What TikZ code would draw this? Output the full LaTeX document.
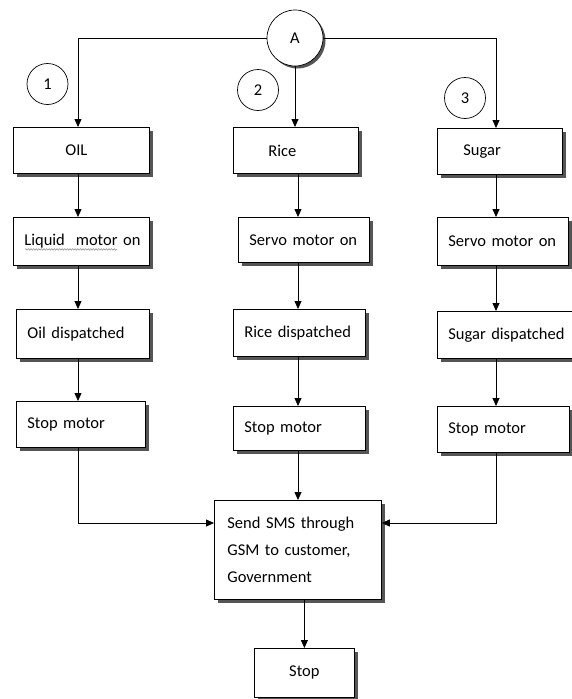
\documentclass[tikz,border=0pt]{standalone}
\usepackage{fontspec}
\setmainfont{Carlito}[WordSpace=0.6]
\usetikzlibrary{arrows.meta, decorations.pathmorphing, backgrounds}
\definecolor{boxShade}{HTML}{555555}
\definecolor{spellGray}{HTML}{8C8C8C}
\hyphenpenalty=10000
\exhyphenpenalty=10000

\begin{document}
\begin{tikzpicture}[x=1pt, y=-1pt, font=\fontsize{16.5}{27}\selectfont,
    box/.style={draw, fill=white, line width=0.8pt, anchor=north west,
      inner xsep=11pt, inner ysep=0pt, align=left},
    num/.style={draw, circle, line width=0.7pt, minimum size=41pt, inner sep=0pt},
    shade/.style={fill=boxShade},
    link/.style={line width=0.8pt},
    arr/.style={link, -{Triangle[length=8pt, width=7pt]}}]
  \useasboundingbox (0,0) rectangle (571,699);

  % start and branch numbers
  \node[num, minimum size=56pt, fill=white] (A) at (295,38) {A};
  \node[num] (n1) at (47.5,84) {1};
  \node[num] (n2) at (258,90) {2};
  \node[num] (n3) at (465,98) {3};

  \coordinate (colL) at (78,0);
  \coordinate (colM) at (298,0);
  \coordinate (colR) at (496,0);
  \coordinate (merge) at (0,523);

  % oil branch
  \node[box, text width=114pt, minimum height=46pt] (oil) at (13,127) {\hspace*{41pt}OIL};
  \node[box, text width=114pt, minimum height=48pt] (liq) at (13,217) {\mbox{Liquid~ motor on}};
  \node[box, text width=111pt, minimum height=49pt] (oild) at (16,309) {Oil dispatched};
  \node[box, text width=107pt, minimum height=46pt] (stopL) at (16,401) {Stop motor};
  \draw[spellGray, line width=0.5pt, decorate,
    decoration={snake, amplitude=0.8pt, segment length=2.6pt}]
    ([xshift=12pt, yshift=-8pt]liq.west) -- ++(92,0);

  % rice branch
  \node[box, text width=103pt, minimum height=46pt] (rice) at (233,127) {\hspace*{24pt}Rice};
  \node[box, text width=109pt, minimum height=45pt] (servoM) at (238,217) {Servo motor on};
  \node[box, text width=110pt, minimum height=47pt] (riced) at (233,309) {Rice dispatched};
  \node[box, text width=110pt, minimum height=44pt] (stopM) at (233,406) {Stop motor};

  % sugar branch
  \node[box, text width=103pt, minimum height=46pt] (sugar) at (437,128) {\hspace*{15pt}Sugar};
  \node[box, text width=109pt, minimum height=48pt] (servoR) at (437,217) {Servo motor on};
  \node[box, text width=118pt, minimum height=47pt] (sugard) at (437,311) {Sugar dispatched};
  \node[box, text width=110pt, minimum height=46pt] (stopR) at (437,406) {Stop motor};

  % end
  \node[box, inner xsep=13pt, text width=141pt, minimum height=99pt] (sms) at (214,500)
    {Send SMS through\\GSM to customer,\\Government};
  \node[box, text width=78pt, minimum height=49pt, align=center] (stop) at (254,648) {Stop};

  % shadows behind the boxes
  \begin{scope}[on background layer]
    \foreach \n in {oil, liq, oild, stopL, rice, servoM, riced, stopM,
        sugar, servoR, sugard, stopR, sms, stop}
      \fill[shade] ([shift={(3.5pt,-3.5pt)}]\n.south west) rectangle ([shift={(3.5pt,-3.5pt)}]\n.north east);
    \fill[shade] ([shift={(2.5pt,-2.5pt)}]A.center) circle (28pt);
  \end{scope}

  \draw[arr] (A.west) -- (A.west -| colL) -- (oil.north -| colL);
  \draw[arr] (A.east) -- (A.east -| colR) -- (sugar.north -| colR);
  \draw[arr] (A.south) -- (A.south |- rice.north);

  \draw[arr] (oil.south -| colL) -- (liq.north -| colL);
  \draw[arr] (liq.south -| colL) -- (oild.north -| colL);
  \draw[arr] (oild.south -| colL) -- (stopL.north -| colL);
  \draw[arr] (rice.south -| colM) -- (servoM.north -| colM);
  \draw[arr] (servoM.south -| colM) -- (riced.north -| colM);
  \draw[arr] (riced.south -| colM) -- (stopM.north -| colM);
  \draw[arr] (sugar.south -| colR) -- (servoR.north -| colR);
  \draw[arr] (servoR.south -| colR) -- (sugard.north -| colR);
  \draw[arr] (sugard.south -| colR) -- (stopR.north -| colR);

  \draw[arr] (stopL.south -| colL) |- (sms.west |- merge);
  \draw[arr] (stopR.south -| colR) |- (sms.east |- merge);
  \draw[arr] (stopM.south -| colM) -- (sms.north -| colM);
  \draw[arr] (sms.south -| stop.north) -- (stop.north);
\end{tikzpicture}
\end{document}
